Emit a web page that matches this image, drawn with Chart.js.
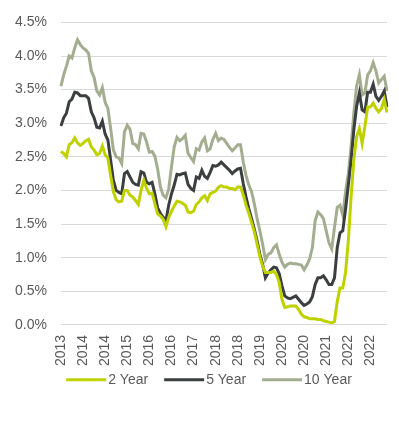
<!DOCTYPE html>
<html lang="en">
<head>
    <meta charset="UTF-8">
    <title>Bond yields</title>
    <script src="https://cdn.jsdelivr.net/npm/chart.js"></script>
    <style>
        body {
            margin: 0;
            background: #ffffff;
            font-family: 'Liberation Sans', Arial, sans-serif;
        }
        #wrap {
            width: 399px;
            height: 424px;
            position: relative;
        }
    </style>
</head>
<body>
    <div id="wrap"><canvas id="yields"></canvas></div>

    <script>
        // monthly observations, May 2013 - Mar 2023
        var months = [
            'May-13', 'Jun-13', 'Jul-13', 'Aug-13', 'Sep-13', 'Oct-13', 'Nov-13', 'Dec-13',
            'Jan-14', 'Feb-14', 'Mar-14', 'Apr-14', 'May-14', 'Jun-14', 'Jul-14', 'Aug-14', 'Sep-14', 'Oct-14', 'Nov-14', 'Dec-14',
            'Jan-15', 'Feb-15', 'Mar-15', 'Apr-15', 'May-15', 'Jun-15', 'Jul-15', 'Aug-15', 'Sep-15', 'Oct-15', 'Nov-15', 'Dec-15',
            'Jan-16', 'Feb-16', 'Mar-16', 'Apr-16', 'May-16', 'Jun-16', 'Jul-16', 'Aug-16', 'Sep-16', 'Oct-16', 'Nov-16', 'Dec-16',
            'Jan-17', 'Feb-17', 'Mar-17', 'Apr-17', 'May-17', 'Jun-17', 'Jul-17', 'Aug-17', 'Sep-17', 'Oct-17', 'Nov-17', 'Dec-17',
            'Jan-18', 'Feb-18', 'Mar-18', 'Apr-18', 'May-18', 'Jun-18', 'Jul-18', 'Aug-18', 'Sep-18', 'Oct-18', 'Nov-18', 'Dec-18',
            'Jan-19', 'Feb-19', 'Mar-19', 'Apr-19', 'May-19', 'Jun-19', 'Jul-19', 'Aug-19', 'Sep-19', 'Oct-19', 'Nov-19', 'Dec-19',
            'Jan-20', 'Feb-20', 'Mar-20', 'Apr-20', 'May-20', 'Jun-20', 'Jul-20', 'Aug-20', 'Sep-20', 'Oct-20', 'Nov-20', 'Dec-20',
            'Jan-21', 'Feb-21', 'Mar-21', 'Apr-21', 'May-21', 'Jun-21', 'Jul-21', 'Aug-21', 'Sep-21', 'Oct-21', 'Nov-21', 'Dec-21',
            'Jan-22', 'Feb-22', 'Mar-22', 'Apr-22', 'May-22', 'Jun-22', 'Jul-22', 'Aug-22', 'Sep-22', 'Oct-22', 'Nov-22', 'Dec-22',
            'Jan-23', 'Feb-23', 'Mar-23'
        ];

        // year labels shown under every 8th month
        var tickLabels = ['2013', '2014', '2014', '2015', '2016', '2016', '2017', '2018',
            '2018', '2019', '2020', '2020', '2021', '2022', '2022'];

        var twoYear = [
            2.58, 2.55, 2.50, 2.68, 2.71, 2.78, 2.71, 2.67, 2.70, 2.74,
            2.76, 2.65, 2.60, 2.53, 2.55, 2.66, 2.53, 2.48, 2.22, 1.98,
            1.86, 1.83, 1.84, 2.00, 2.00, 1.93, 1.90, 1.85, 1.79, 2.00,
            2.15, 2.03, 1.95, 1.96, 1.80, 1.65, 1.62, 1.57, 1.46, 1.60,
            1.69, 1.77, 1.84, 1.83, 1.81, 1.78, 1.68, 1.67, 1.69, 1.79,
            1.83, 1.89, 1.92, 1.85, 1.95, 1.97, 1.99, 2.05, 2.07, 2.05,
            2.05, 2.03, 2.03, 2.01, 2.05, 2.05, 1.93, 1.78, 1.66, 1.52,
            1.38, 1.20, 1.01, 0.87, 0.78, 0.78, 0.78, 0.80, 0.75, 0.63,
            0.38, 0.26, 0.27, 0.28, 0.28, 0.28, 0.23, 0.16, 0.12, 0.11,
            0.09, 0.09, 0.09, 0.08, 0.08, 0.06, 0.05, 0.04, 0.03, 0.05,
            0.35, 0.55, 0.55, 0.78, 1.25, 1.90, 2.45, 2.80, 2.92, 2.70,
            2.95, 3.24, 3.24, 3.30, 3.22, 3.17, 3.22, 3.35, 3.16
        ];

        var fiveYear = [
            2.96, 3.08, 3.15, 3.32, 3.36, 3.46, 3.45, 3.41, 3.41, 3.41,
            3.37, 3.17, 3.08, 2.94, 2.93, 3.03, 2.84, 2.75, 2.45, 2.15,
            2.00, 1.97, 1.95, 2.25, 2.28, 2.20, 2.12, 2.09, 2.08, 2.28,
            2.26, 2.12, 2.10, 2.12, 1.95, 1.74, 1.66, 1.60, 1.55, 1.78,
            1.95, 2.08, 2.24, 2.23, 2.25, 2.26, 2.09, 2.03, 2.00, 2.20,
            2.18, 2.30, 2.21, 2.18, 2.27, 2.37, 2.36, 2.38, 2.42, 2.38,
            2.34, 2.30, 2.25, 2.29, 2.32, 2.33, 2.10, 1.90, 1.73, 1.58,
            1.42, 1.25, 1.05, 0.90, 0.70, 0.77, 0.82, 0.86, 0.85, 0.76,
            0.58, 0.43, 0.40, 0.39, 0.41, 0.43, 0.38, 0.33, 0.29, 0.31,
            0.34, 0.42, 0.60, 0.70, 0.70, 0.73, 0.67, 0.60, 0.60, 0.70,
            1.15, 1.37, 1.40, 1.72, 2.08, 2.45, 2.90, 3.25, 3.45, 3.20,
            3.17, 3.46, 3.46, 3.58, 3.40, 3.34, 3.40, 3.48, 3.24
        ];

        var tenYear = [
            3.55, 3.72, 3.85, 4.00, 3.97, 4.12, 4.24, 4.17, 4.12, 4.09,
            4.04, 3.78, 3.68, 3.48, 3.42, 3.53, 3.31, 3.22, 2.92, 2.60,
            2.50, 2.48, 2.40, 2.87, 2.97, 2.91, 2.70, 2.68, 2.62, 2.85,
            2.84, 2.72, 2.57, 2.58, 2.51, 2.32, 2.05, 1.93, 1.89, 2.02,
            2.35, 2.65, 2.79, 2.74, 2.77, 2.82, 2.55, 2.49, 2.43, 2.62,
            2.60, 2.72, 2.78, 2.59, 2.62, 2.76, 2.85, 2.74, 2.78, 2.76,
            2.70, 2.64, 2.59, 2.63, 2.68, 2.68, 2.42, 2.22, 2.08, 1.98,
            1.80, 1.58, 1.40, 1.20, 0.97, 1.05, 1.07, 1.15, 1.19, 1.05,
            0.93, 0.86, 0.90, 0.92, 0.91, 0.91, 0.90, 0.89, 0.82, 0.89,
            0.98, 1.15, 1.55, 1.68, 1.64, 1.58, 1.40, 1.22, 1.13, 1.45,
            1.75, 1.78, 1.63, 1.98, 2.25, 2.65, 3.15, 3.55, 3.72, 3.42,
            3.45, 3.72, 3.78, 3.90, 3.78, 3.60, 3.65, 3.70, 3.48
        ];

        var textColor = '#595959';
        var fontFamily = "'Liberation Sans', Arial, sans-serif";

        function series(label, values, color) {
            return {
                label: label,
                data: values,
                borderColor: color,
                backgroundColor: color,
                borderWidth: 3,
                pointRadius: 0,
                pointHoverRadius: 0,
                tension: 0,
                fill: false
            };
        }

        // legend drawn as line samples with the label right after, like the original
        var lineLegend = {
            id: 'lineLegend',
            afterDraw: function (chart) {
                var c = chart.ctx;
                var sample = 40, gap = 2, spacing = 16;
                c.save();
                c.font = '14px ' + fontFamily;
                var items = chart.data.datasets.map(function (ds) {
                    return { text: ds.label, color: ds.borderColor, w: c.measureText(ds.label).width };
                });
                var total = 0;
                items.forEach(function (it, i) {
                    total += sample + gap + it.w + (i > 0 ? spacing : 0);
                });
                var x = 209 - total / 2;
                var y = chart.chartArea.bottom + 55;
                c.textBaseline = 'middle';
                c.textAlign = 'left';
                items.forEach(function (it) {
                    c.strokeStyle = it.color;
                    c.lineWidth = 3;
                    c.beginPath();
                    c.moveTo(x, y);
                    c.lineTo(x + sample, y);
                    c.stroke();
                    c.fillStyle = textColor;
                    c.fillText(it.text, x + sample + gap, y);
                    x += sample + gap + it.w + spacing;
                });
                c.restore();
            }
        };

        var ctx = document.getElementById('yields').getContext('2d');
        var yieldChart = new Chart(ctx, {
            type: 'line',
            data: {
                labels: months,
                datasets: [
                    series('2 Year', twoYear, '#bfd200'),
                    series('5 Year', fiveYear, '#3b3f40'),
                    series('10 Year', tenYear, '#a3ad8f')
                ]
            },
            options: {
                responsive: true,
                maintainAspectRatio: false,
                animation: false,
                layout: {
                    padding: { left: 1, right: 12, top: 22, bottom: 48 }
                },
                plugins: {
                    tooltip: { enabled: false },
                    legend: { display: false }
                },
                scales: {
                    x: {
                        offset: false,
                        grid: { display: false, drawTicks: false },
                        border: { display: false },
                        ticks: {
                            autoSkip: false,
                            maxRotation: 90,
                            minRotation: 90,
                            padding: 10,
                            color: textColor,
                            font: { family: fontFamily, size: 14 },
                            callback: function (value, index) {
                                return index % 8 === 0 ? tickLabels[index / 8] : null;
                            }
                        }
                    },
                    y: {
                        min: 0,
                        max: 4.5,
                        border: { display: false },
                        grid: { color: '#d9d9d9', lineWidth: 1, drawTicks: false },
                        ticks: {
                            stepSize: 0.5,
                            padding: 14,
                            color: textColor,
                            font: { family: fontFamily, size: 14 },
                            callback: function (value) {
                                return value.toFixed(1) + '%';
                            }
                        }
                    }
                }
            },
            plugins: [lineLegend]
        });
    </script>
</body>
</html>
